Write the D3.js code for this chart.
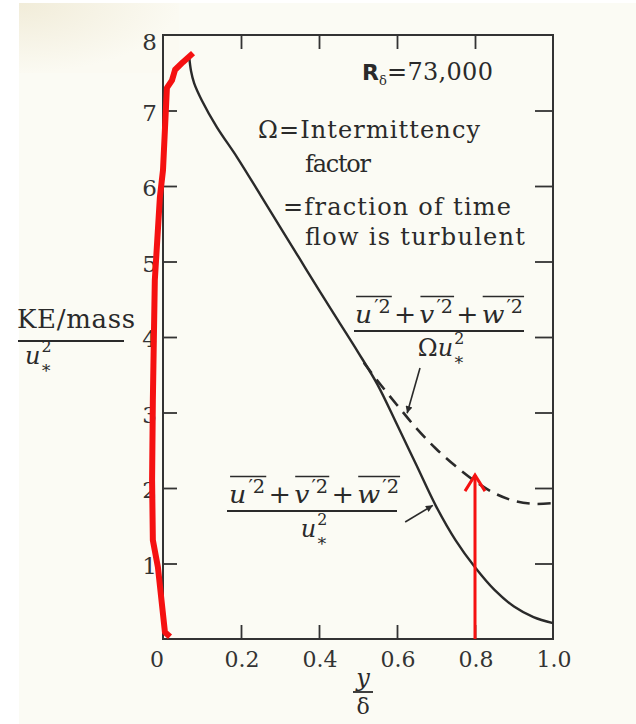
<!DOCTYPE html>
<html><head><meta charset="utf-8">
<script src="https://cdn.jsdelivr.net/npm/d3@7"></script>
<style>html,body{margin:0;padding:0;background:#fff;}svg{display:block;}</style>
</head><body>
<script>
// ---- data ----
const xTickValues = [0, 0.2, 0.4, 0.6, 0.8, 1.0];
const xTickLabels = ["0", "0.2", "0.4", "0.6", "0.8", "1.0"];
const yTickValues = [1, 2, 3, 4, 5, 6, 7, 8];
const yTickLabels = ["1", "2", "3", "4", "5", "6", "7", "8"];
// (u'^2+v'^2+w'^2)/u*^2  (solid)
const solidX = [0.067, 0.072, 0.080, 0.100, 0.138, 0.190, 0.250, 0.300, 0.350, 0.400, 0.450, 0.500, 0.550, 0.600, 0.650, 0.700, 0.750, 0.800, 0.850, 0.900, 0.950, 1.000];
const solidY = [7.72, 7.52, 7.36, 7.13, 6.78, 6.38, 5.88, 5.46, 5.04, 4.62, 4.21, 3.80, 3.37, 2.84, 2.30, 1.76, 1.31, 0.95, 0.65, 0.43, 0.29, 0.21];
// (u'^2+v'^2+w'^2)/(Omega u*^2)  (dashed)
const dashX = [0.515, 0.550, 0.600, 0.650, 0.700, 0.750, 0.800, 0.850, 0.900, 0.950, 1.000];
const dashY = [3.66, 3.42, 3.10, 2.79, 2.52, 2.29, 2.09, 1.93, 1.83, 1.79, 1.80];
// red hand-drawn overlay
const redX = [0.077, 0.051, 0.031, 0.023, 0.010, 0.000, -0.008, -0.021, -0.026, -0.028, -0.026, -0.013, 0.005, 0.018];
const redY = [7.76, 7.64, 7.54, 7.40, 7.30, 6.21, 5.85, 4.75, 3.17, 2.11, 1.31, 0.95, 0.09, 0.03];
const redArrowX = 0.8, redArrowY0 = 0, redArrowY1 = 2.17;

const W = 636, H = 724;
const svg = d3.select("body").append("svg").attr("width", W).attr("height", H);
const SERIF = "'DejaVu Serif', 'Liberation Serif', serif";
const INK = "#2a2a2a";

// page background (scan)
const defs = svg.append("defs");
const grad = defs.append("radialGradient").attr("id", "beige").attr("cx", "0").attr("cy", "0").attr("r", "1");
grad.append("stop").attr("offset", "0").attr("stop-color", "#f1ecd9");
grad.append("stop").attr("offset", "1").attr("stop-color", "#fbfaf2");
svg.append("rect").attr("x", 19).attr("y", 3).attr("width", W - 19).attr("height", H - 3).attr("fill", "#fbfbf4");
svg.append("rect").attr("x", 19).attr("y", 3).attr("width", 160).attr("height", 70).attr("fill", "url(#beige)");

const x = d3.scaleLinear().domain([0, 1]).range([163, 553]);
const y = d3.scaleLinear().domain([0, 8]).range([639, 35]);

// arrow marker
defs.append("marker").attr("id", "ah").attr("viewBox", "0 0 10 10").attr("refX", 10).attr("refY", 5)
  .attr("markerWidth", 12).attr("markerHeight", 7).attr("markerUnits", "userSpaceOnUse").attr("orient", "auto")
  .append("path").attr("d", "M0,0 L10,5 L0,10 Z").attr("fill", INK);

// frame
svg.append("rect").attr("x", x(0)).attr("y", y(8)).attr("width", x(1) - x(0)).attr("height", y(0) - y(8))
  .attr("fill", "none").attr("stroke", "#333").attr("stroke-width", 2);

// axes with inward ticks
const tl = 14;
const inner = xTickValues.filter(v => v > 0 && v < 1);
const innerY = yTickValues.filter(v => v < 8);
function styleAxis(g) { g.select(".domain").remove(); g.selectAll("line").attr("stroke", "#333").attr("stroke-width", 1.8); }
svg.append("g").attr("transform", `translate(0,${y(0)})`).call(d3.axisBottom(x).tickValues(inner).tickSize(-tl).tickFormat("")).call(styleAxis);
svg.append("g").attr("transform", `translate(0,${y(8)})`).call(d3.axisTop(x).tickValues(inner).tickSize(-tl).tickFormat("")).call(styleAxis);
svg.append("g").attr("transform", `translate(${x(0)},0)`).call(d3.axisLeft(y).tickValues(innerY).tickSize(-tl).tickFormat("")).call(styleAxis);
svg.append("g").attr("transform", `translate(${x(1)},0)`).call(d3.axisRight(y).tickValues(innerY).tickSize(-18).tickFormat("")).call(styleAxis);

// tick labels
svg.append("g").selectAll("text").data(xTickValues).join("text")
  .attr("x", (d, i) => x(d) + (i === 0 ? -6 : 1)).attr("y", 667)
  .attr("text-anchor", "middle").style("font-family", SERIF).style("font-size", "22px").attr("fill", "#333")
  .text((d, i) => xTickLabels[i]);
svg.append("g").selectAll("text").data(yTickValues).join("text")
  .attr("x", 157).attr("y", d => y(d) + (d === 8 ? 15 : 10))
  .attr("text-anchor", "end").style("font-family", SERIF).style("font-size", "23px").attr("fill", "#333")
  .text((d, i) => yTickLabels[i]);

// curves
const solid = solidX.map((v, i) => [v, solidY[i]]);
const dashed = dashX.map((v, i) => [v, dashY[i]]);
const line = d3.line().x(d => x(d[0])).y(d => y(d[1])).curve(d3.curveCatmullRom.alpha(0.5));
svg.append("path").attr("d", line(solid)).attr("fill", "none").attr("stroke", INK).attr("stroke-width", 2.4);
svg.append("path").attr("d", line(dashed)).attr("fill", "none").attr("stroke", INK).attr("stroke-width", 2.6)
  .attr("stroke-dasharray", "13,8");

// helpers for math text
function txt(g, tx, ty, s, fs, italic, anchor) {
  return g.append("text").attr("x", tx).attr("y", ty).style("font-family", SERIF).style("font-size", fs + "px")
    .style("font-style", italic ? "italic" : "normal").attr("fill", INK).attr("text-anchor", anchor || "start").text(s);
}
function wOf(t) { return t.node().getComputedTextLength(); }
function fitText(g, tx, ty, s, fs, width) {
  const t = txt(g, tx, ty, s, fs, false);
  t.attr("textLength", width).attr("lengthAdjust", "spacing");
  return t;
}
// overline term like u'^2; returns width
function overTerm(g, tx, ty, letter, fs) {
  const a = txt(g, tx, ty, letter, fs, true);
  const wa = wOf(a);
  const p = txt(g, tx + wa + 2, ty - fs * 0.40, "′", fs * 0.72, false);
  const wp = wOf(p);
  const b = txt(g, tx + wa + 2 + wp, ty - fs * 0.40, "2", fs * 0.72, false);
  const w = wa + 2 + wp + wOf(b);
  g.append("line").attr("x1", tx + 1).attr("x2", tx + w + 1).attr("y1", ty - fs * 1.06).attr("y2", ty - fs * 1.06)
    .attr("stroke", INK).attr("stroke-width", 1.6);
  return w;
}
function numerator(g, x0, x1, ty, fs) {
  const tmp = g.append("g");
  let cur = 0;
  ["u", "+", "v", "+", "w"].forEach(p => {
    if (p === "+") { const t = txt(tmp, cur + 3, ty, "+", fs, false); cur += wOf(t) + 6; }
    else { cur += overTerm(tmp, cur, ty, p, fs); }
  });
  const sx = (x1 - x0) / cur;
  tmp.attr("transform", `translate(${x0},0) scale(${sx},1)`);
}
function uStar(g, tx, ty, fs, prefix) {
  let cur = tx;
  if (prefix) { const p = txt(g, cur, ty, prefix, fs, false); cur += wOf(p); }
  const u = txt(g, cur, ty, "u", fs, true); cur += wOf(u) + 1;
  const s2 = txt(g, cur, ty - fs * 0.5, "2", fs * 0.66, false);
  txt(g, cur - 1, ty + fs * 0.38, "∗", fs * 0.72, false);
  return cur + wOf(s2) - tx;
}

const ann = svg.append("g");
// R_delta = 73,000
{
  const r = txt(ann, 362, 80, "R", 22, false).style("font-weight", "bold").style("font-family", "'DejaVu Sans', sans-serif");
  const wr = wOf(r);
  txt(ann, 362 + wr, 85, "δ", 13, false);
  fitText(ann, 362 + wr + 8, 80, "=73,000", 24, 493 - (362 + wr + 8));
}
fitText(ann, 258, 138, "Ω=Intermittency", 24, 222);
fitText(ann, 305, 172, "factor", 24, 66);
fitText(ann, 283, 215, "=fraction of time", 24, 228);
fitText(ann, 305, 245, "flow is turbulent", 24, 220);

// dashed label
numerator(ann, 355, 523, 323, 25);
ann.append("line").attr("x1", 354).attr("x2", 524).attr("y1", 331).attr("y2", 331).attr("stroke", INK).attr("stroke-width", 1.8);
{
  const g = ann.append("g");
  const w = uStar(g, 0, 356, 24, "Ω");
  g.attr("transform", `translate(${441 - w / 2},0)`);
}
// solid label
numerator(ann, 229, 399, 503, 25);
ann.append("line").attr("x1", 227).attr("x2", 397).attr("y1", 511).attr("y2", 511).attr("stroke", INK).attr("stroke-width", 1.8);
{
  const g = ann.append("g");
  const w = uStar(g, 0, 537, 24, null);
  g.attr("transform", `translate(${314 - w / 2},0)`);
}
// pointer arrows
ann.append("line").attr("x1", x(0.659)).attr("y1", y(3.59)).attr("x2", x(0.626)).attr("y2", y(2.99))
  .attr("stroke", INK).attr("stroke-width", 1.6).attr("marker-end", "url(#ah)");
ann.append("line").attr("x1", x(0.621)).attr("y1", y(1.55)).attr("x2", x(0.692)).attr("y2", y(1.77))
  .attr("stroke", INK).attr("stroke-width", 1.6).attr("marker-end", "url(#ah)");

// y axis title
fitText(ann, 17, 328, "KE/mass", 26, 118);
ann.append("line").attr("x1", 18).attr("x2", 124).attr("y1", 341).attr("y2", 341).attr("stroke", INK).attr("stroke-width", 1.8);
uStar(ann, 25, 364, 24, null);
// x axis title
txt(ann, 363, 686, "y", 24, true, "middle");
ann.append("line").attr("x1", 353).attr("x2", 373).attr("y1", 692).attr("y2", 692).attr("stroke", INK).attr("stroke-width", 1.8);
txt(ann, 363, 714, "δ", 22, false, "middle");

// red overlay
const red = redX.map((v, i) => [v, redY[i]]);
svg.append("path").attr("d", d3.line().x(d => x(d[0])).y(d => y(d[1]))(red))
  .attr("fill", "none").attr("stroke", "#f51111").attr("stroke-width", 6).attr("stroke-linejoin", "round");
svg.append("line").attr("x1", x(redArrowX)).attr("x2", x(redArrowX)).attr("y1", y(redArrowY0)).attr("y2", y(redArrowY1))
  .attr("stroke", "#f51111").attr("stroke-width", 3);
svg.append("path")
  .attr("d", `M${x(redArrowX) - 10},${y(redArrowY1) + 16} L${x(redArrowX)},${y(redArrowY1)} L${x(redArrowX) + 10},${y(redArrowY1) + 16}`)
  .attr("fill", "none").attr("stroke", "#f51111").attr("stroke-width", 3);
</script>
</body></html>
